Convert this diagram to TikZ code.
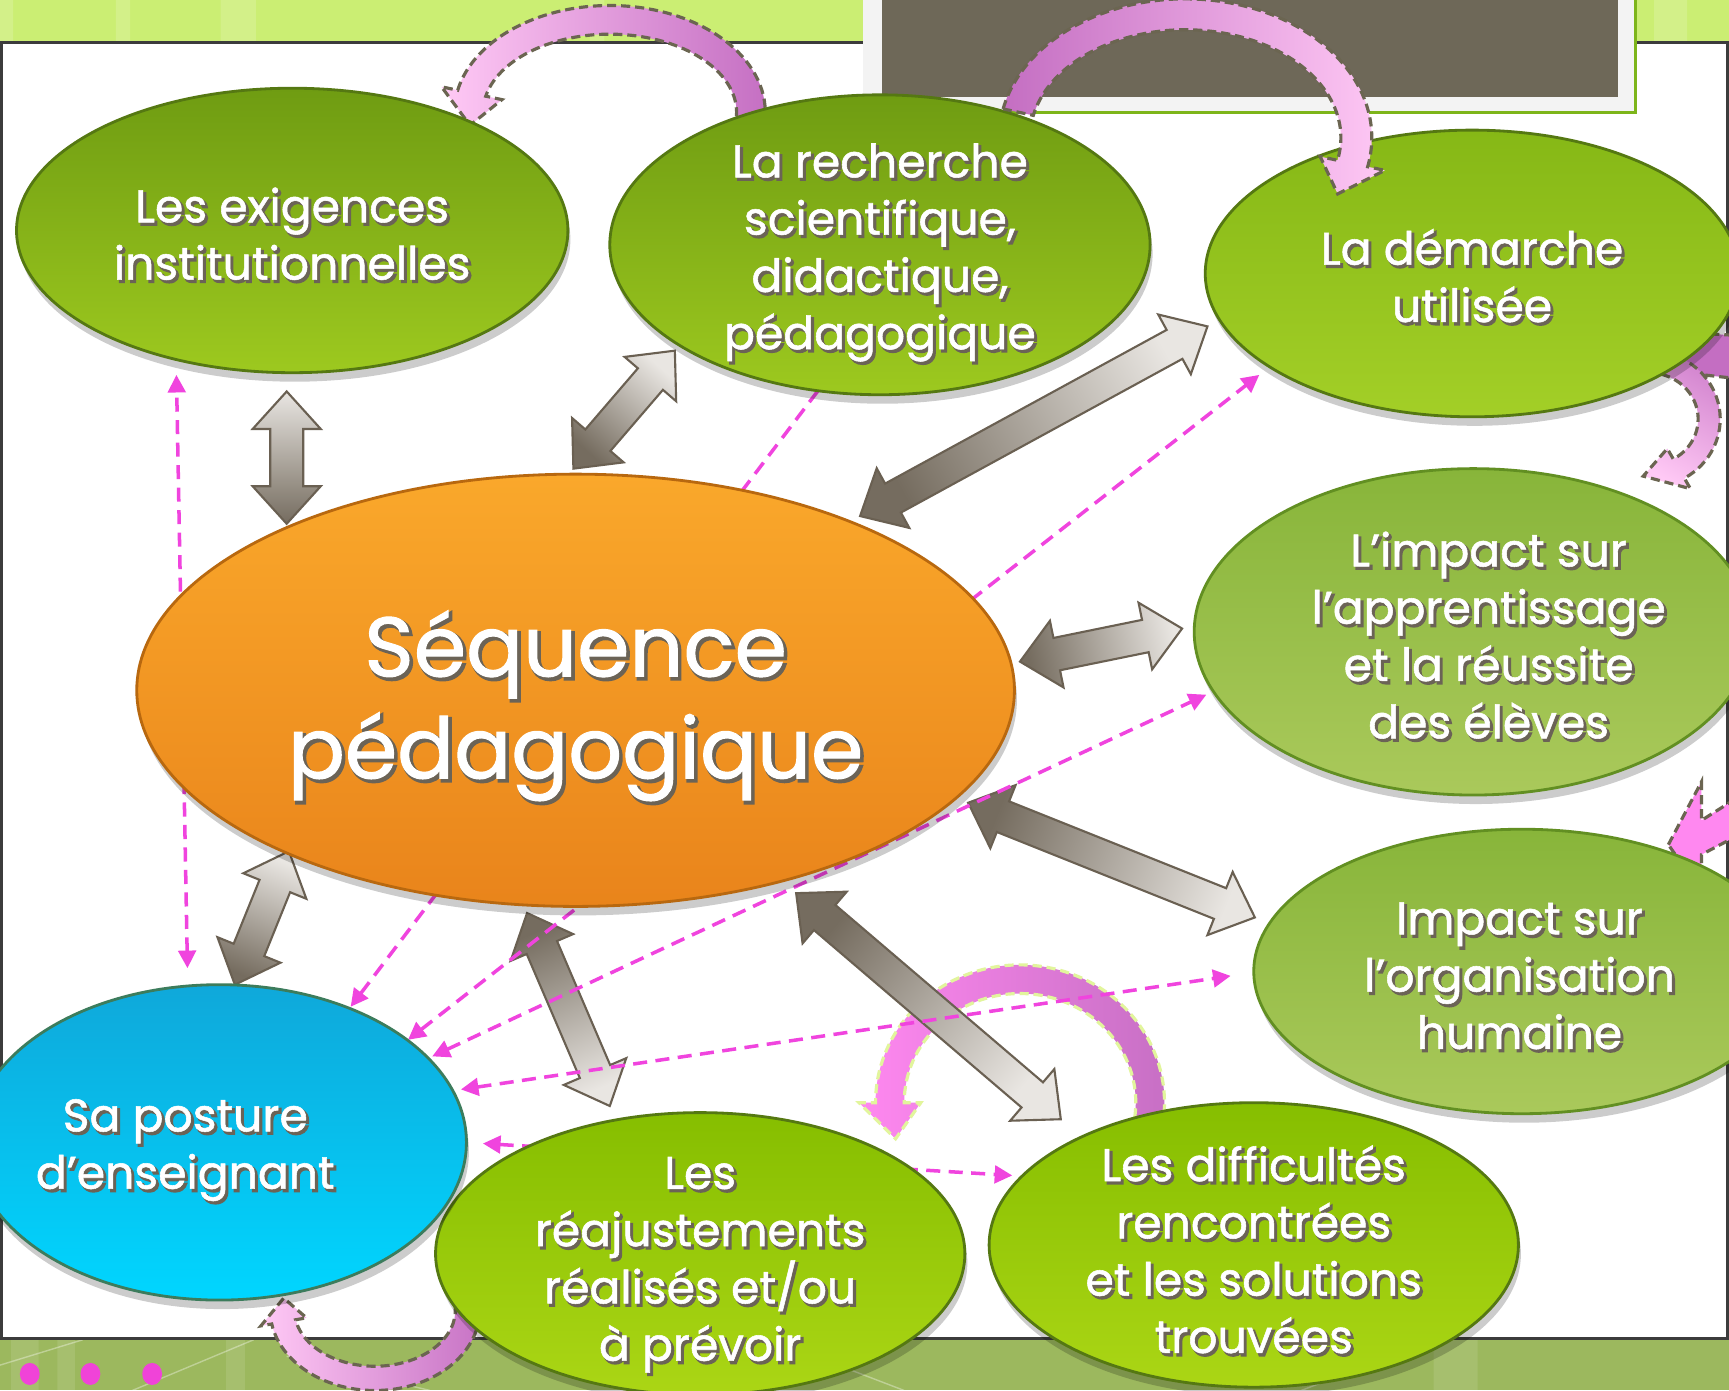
\documentclass[tikz,border=0pt]{standalone}
\usepackage{fontspec}
\setmainfont{Poppins}
\newfontfamily\lblfont{Poppins}[FakeBold=1.2]
\newfontfamily\lblshfont{Poppins}[FakeBold=4]
\usetikzlibrary{calc,shapes.geometric,arrows.meta,shadows}

\definecolor{bandgreen}{HTML}{CBEE73}
\definecolor{botgreen}{HTML}{9CB85E}
\definecolor{framegrey}{HTML}{3C3C3C}
\definecolor{boxbrown}{HTML}{6E6858}
\definecolor{boxframe}{HTML}{F3F3F3}
\definecolor{boxgreen}{HTML}{7DB51A}
\definecolor{dotpink}{HTML}{F043D8}
\definecolor{dashpink}{HTML}{F044DE}
\definecolor{arrdark}{HTML}{756C5F}
\definecolor{arrlight}{HTML}{E9E6E2}
\definecolor{arredge}{HTML}{6A6052}
\definecolor{pinklight}{HTML}{FFC9F5}
\definecolor{pinkbright}{HTML}{FF88F0}
\definecolor{magdark}{HTML}{C46EC2}
\definecolor{curvedge}{HTML}{6B6551}
\definecolor{curvedgeY}{HTML}{E2F59C}
\definecolor{txtshadow}{HTML}{6B6356}
\definecolor{gAtop}{HTML}{6F9C12}
\definecolor{gAbot}{HTML}{9DC91F}
\definecolor{gAedge}{HTML}{557812}
\definecolor{gBtop}{HTML}{86B816}
\definecolor{gBbot}{HTML}{A3CF27}
\definecolor{gCtop}{HTML}{88B53A}
\definecolor{gCbot}{HTML}{AAC95B}
\definecolor{gCedge}{HTML}{628F22}
\definecolor{gDtop}{HTML}{86BE00}
\definecolor{gDbot}{HTML}{ABD615}
\definecolor{cyTop}{HTML}{0FA8DA}
\definecolor{cyBot}{HTML}{00D6FF}
\definecolor{cyEdge}{HTML}{3C7C5C}
\definecolor{orTop}{HTML}{FAA82B}
\definecolor{orBot}{HTML}{E9841B}
\definecolor{orEdge}{HTML}{B8680F}

% double block arrow between two named coordinates
\newcommand\dblarrow[4]{%
  \coordinate (#3c1) at ($(#1)!3.75mm!(#2)$);
  \coordinate (#3c2) at ($(#2)!3.75mm!(#1)$);
  \path[dbl, top color=arrlight, bottom color=arrdark, shading angle=#4]
    (#1) -- ($(#3c1)!3.4mm!90:(#2)$) -- ($(#3c1)!1.65mm!90:(#2)$)
    -- ($(#3c2)!1.65mm!-90:(#1)$) -- ($(#3c2)!3.4mm!-90:(#1)$) -- (#2)
    -- ($(#3c2)!3.4mm!90:(#1)$) -- ($(#3c2)!1.65mm!90:(#1)$)
    -- ($(#3c1)!1.65mm!-90:(#2)$) -- ($(#3c1)!3.4mm!-90:(#2)$) -- cycle;
}
% curved block arrow along an elliptic arc
\newcommand\curvarrow[9]{%
  \pgfmathsetmacro\rxo{#3+#8}\pgfmathsetmacro\ryo{#4+#8}%
  \pgfmathsetmacro\rxi{#3-#8}\pgfmathsetmacro\ryi{#4-#8}%
  \pgfmathsetmacro\rxho{#3+#9}\pgfmathsetmacro\ryho{#4+#9}%
  \pgfmathsetmacro\rxhi{#3-#9}\pgfmathsetmacro\ryhi{#4-#9}%
  \begin{scope}[shift={#2}]
  \path[#1] ({\rxo*cos(#5)},{\ryo*sin(#5)})
     arc[start angle=#5, end angle=#6, x radius=\rxo, y radius=\ryo]
     -- ({\rxho*cos(#6)},{\ryho*sin(#6)}) -- ({#3*cos(#7)},{#4*sin(#7)})
     -- ({\rxhi*cos(#6)},{\ryhi*sin(#6)}) -- ({\rxi*cos(#6)},{\ryi*sin(#6)})
     arc[start angle=#6, end angle=#5, x radius=\rxi, y radius=\ryi] -- cycle;
  \end{scope}
}
% text with outline shadow
\newcommand\shtxt[5]{%
  \node[lbl, text=txtshadow, font=\lblshfont\fontsize{#3}{#4}\selectfont] (#1S) at ($#2+(2.2,2.4)$) {#5};
  \node[lbl, font=\lblfont\fontsize{#3}{#4}\selectfont] (#1T) at #2 {#5};}

\begin{document}
\begin{tikzpicture}[x=0.11027mm, y=-0.11027mm,
  ell/.style={ellipse, inner sep=0pt, line width=0.8pt,
     drop shadow={shadow xshift=0.25mm, shadow yshift=-0.9mm, opacity=0.2, fill=black}},
  ellA/.style={ell, top color=gAtop, bottom color=gAbot, draw=gAedge},
  ellB/.style={ell, top color=gBtop, bottom color=gBbot, draw=gAedge},
  ellC/.style={ell, top color=gCtop, bottom color=gCbot, draw=gCedge},
  ellD/.style={ell, top color=gDtop, bottom color=gDbot, draw=gAedge},
  ellcyan/.style={ell, top color=cyTop, bottom color=cyBot, draw=cyEdge},
  ellorange/.style={ell, top color=orTop, bottom color=orBot, draw=orEdge},
  lbl/.style={text=white, align=center, inner sep=0pt},
  dbl/.style={draw=arredge, line width=0.6pt},
  dashl/.style={draw=dashpink, line width=1pt, dash pattern=on 4pt off 2.4pt, <->,
     >={Triangle[length=5pt,width=5pt]}},
  curvA/.style={draw=curvedge, line width=0.9pt, dash pattern=on 2.6pt off 1.4pt},
  curvY/.style={draw=curvedgeY, line width=0.9pt, dash pattern=on 2.6pt off 1.4pt},
]
\useasboundingbox (0,0) rectangle (1568,1261);
\clip (0,0) rectangle (1568,1261);

% ---------- background ----------
\fill[bandgreen] (0,0) rectangle (1568,40);
\fill[white, opacity=.16] (0,0) rectangle (12,40) (105,0) rectangle (118,40)
   (200,0) rectangle (232,40) (535,0) rectangle (548,40) (1500,0) rectangle (1530,40);
\fill[botgreen] (0,1212) rectangle (1568,1261);
\fill[white, opacity=.10] (10,1215) rectangle (35,1261) (52,1215) rectangle (68,1261)
   (205,1215) rectangle (222,1261) (600,1215) rectangle (640,1261) (1300,1215) rectangle (1340,1261);
\draw[white, opacity=.35, line width=.4pt] (0,1238) -- (75,1215) (120,1261) -- (230,1215)
   (260,1230) -- (390,1261) (700,1215) -- (820,1261) (1180,1261) -- (1300,1215);
\draw[framegrey, line width=0.8pt, fill=white] (1,38.5) rectangle (1566.5,1214);
\fill[boxframe] (783,0) rectangle (1483,102);
\draw[boxgreen, line width=1pt] (783,102) -- (1483,102) -- (1483,0);
\fill[boxbrown] (800,0) rectangle (1467,88);

% ---------- curved pink arrows (behind the ellipses) ----------
\curvarrow{curvA, top color=pinklight, bottom color=magdark, shading angle=90}{(553,102)}{128}{84}{5}{-168}{-188}{13}{28}
\path[curvA, fill=magdark] (1500,300) -- (1590,305) -- (1590,345) -- (1500,335) -- cycle;
\curvarrow{curvA, top color=pinklight, bottom color=magdark!80!pinklight, shading angle=150}{(1495,380)}{55}{52}{-100}{60}{95}{10}{21}
\path[curvA, fill=pinkbright] (1513,766) -- (1543,709) -- (1543,744) -- (1600,708)
   -- (1600,745) -- (1543,775) -- (1543,809) -- cycle;
\curvarrow{curvY, top color=pinkbright, bottom color=magdark, shading angle=90}{(925,1000)}{118}{112}{22}{-180}{-197}{13}{28}
\curvarrow{curvA, top color=pinklight, bottom color=magdark, shading angle=90}{(340,1188)}{84}{62}{-25}{170}{190}{11}{21}

% ---------- grey double arrows ----------
\coordinate (ga1) at (260,355);  \coordinate (ga2) at (260,475);
\coordinate (gb1) at (520,425);  \coordinate (gb2) at (612,318);
\coordinate (gc1) at (780,468);  \coordinate (gc2) at (1095,296);
\coordinate (gd1) at (925,600);  \coordinate (gd2) at (1072,570);
\coordinate (ge1) at (878,728);  \coordinate (ge2) at (1138,832);
\coordinate (gf1) at (722,810);  \coordinate (gf2) at (962,1015);
\coordinate (gg1) at (478,828);  \coordinate (gg2) at (553,1003);
\coordinate (gh1) at (262,772);  \coordinate (gh2) at (213,893);
\dblarrow{ga1}{ga2}{ga}{0}
\dblarrow{gb1}{gb2}{gb}{-41}
\dblarrow{gc1}{gc2}{gc}{-61}
\dblarrow{gd1}{gd2}{gd}{-78}
\dblarrow{ge1}{ge2}{ge}{-112}
\dblarrow{gf1}{gf2}{gf}{-130}
\dblarrow{gg1}{gg2}{gg}{-157}
\dblarrow{gh1}{gh2}{gh}{-22}

% ---------- dashed magenta connectors ----------
\coordinate (m1a) at (170,878);  \coordinate (m1b) at (160,340);
\coordinate (m2a) at (318,913);  \coordinate (m2b) at (755,337);
\coordinate (m3a) at (370,943);  \coordinate (m3b) at (1142,340);
\coordinate (m4a) at (392,958);  \coordinate (m4b) at (1094,630);
\coordinate (m5a) at (418,988);  \coordinate (m5b) at (1116,885);
\coordinate (m6a) at (438,1037); \coordinate (m6b) at (918,1066);
\draw[dashl] (m1a) -- (m1b);
\draw[dashl] (m2a) -- (m2b);
\draw[dashl] (m3a) -- (m3b);
\draw[dashl] (m4a) -- (m4b);
\draw[dashl] (m5a) -- (m5b);
\draw[dashl] (m6a) -- (m6b);

% ---------- ellipses ----------
\node[ellA, minimum width=55.14mm, minimum height=28.45mm] (exig) at (265,209) {};
\node[ellA, minimum width=54.03mm, minimum height=29.99mm] (rech) at (798,222) {};
\node[ellB, minimum width=53.37mm, minimum height=28.67mm] (dem) at (1335,248) {};
\node[ellC, minimum width=55.80mm, minimum height=32.64mm] (impA) at (1336,573) {};
\node[ellC, minimum width=53.59mm, minimum height=28.45mm] (impO) at (1380,881) {};
\node[ellD, minimum width=52.93mm, minimum height=28.45mm] (diff) at (1137,1129) {};
\node[ellD, minimum width=52.93mm, minimum height=28.23mm] (reaj) at (635,1137) {};
\node[ellcyan, minimum width=49.40mm, minimum height=31.54mm] (post) at (199,1036) {};
\node[ellorange, minimum width=87.77mm, minimum height=43.23mm] (seq) at (522,626) {};

% ---------- curved arrow drawn over the ellipses ----------
\curvarrow{curvA, top color=pinklight, bottom color=magdark, shading angle=-90}{(1075,125)}{155}{112}{-168}{12}{27}{14}{30}

% ---------- labels ----------
\shtxt{exig}{(265,212)}{13}{16.3}{Les exigences\\institutionnelles}
\shtxt{rech}{(798,229)}{13}{16.3}{La recherche\\scientifique,\\didactique,\\pédagogique}
\shtxt{dem}{(1335,250)}{13}{16.3}{La démarche\\utilisée}
\shtxt{impA}{(1350,576)}{13}{16.3}{L’impact sur\\l’apprentissage\\et la réussite\\des élèves}
\shtxt{impO}{(1378,885)}{13}{16.3}{Impact sur\\l’organisation\\humaine}
\shtxt{diff}{(1137,1133)}{13}{16.3}{Les difficultés\\rencontrées\\et les solutions\\trouvées}
\shtxt{reaj}{(635,1147)}{13}{16.3}{Les\\réajustements\\réalisés et/ou\\à prévoir}
\shtxt{post}{(168,1043)}{13}{16.3}{Sa posture\\d’enseignant}
\shtxt{seq}{(522,640)}{24}{29}{Séquence\\pédagogique}

% ---------- dots ----------
\fill[dotpink] (27,1246) ellipse [x radius=9, y radius=10];
\fill[dotpink] (82,1246) ellipse [x radius=9, y radius=10];
\fill[dotpink] (138,1246) ellipse [x radius=9, y radius=10];
\end{tikzpicture}
\end{document}
